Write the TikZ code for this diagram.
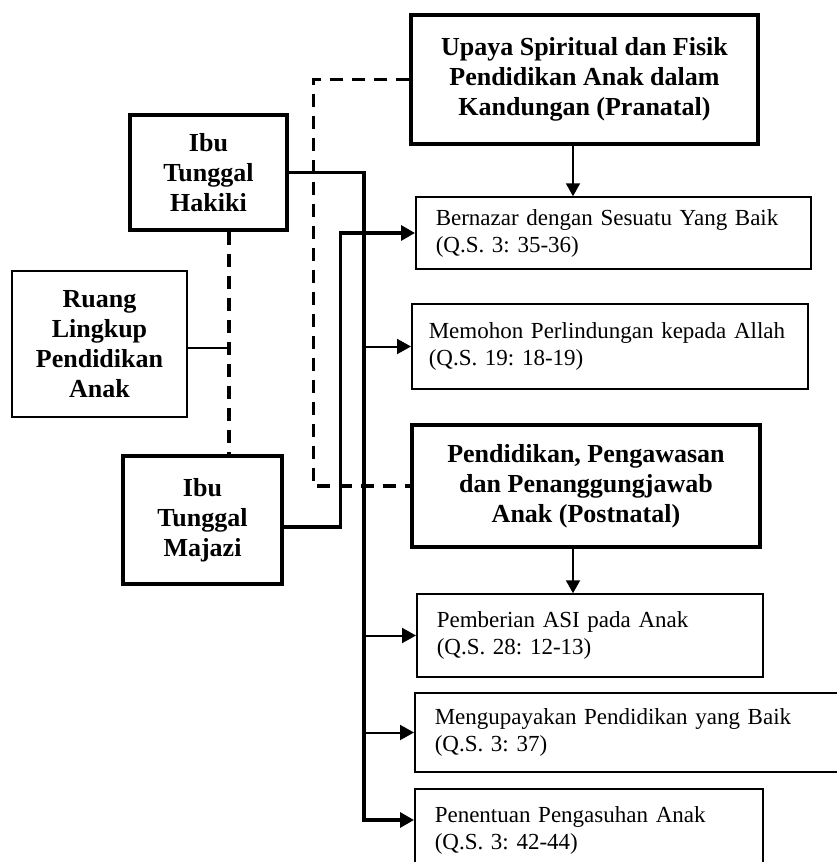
\documentclass[tikz,border=0pt]{standalone}
\usepackage{fontspec}
\setmainfont{Liberation Serif}
\usetikzlibrary{arrows.meta}
\frenchspacing

\begin{document}
\begin{tikzpicture}[x=1pt, y=-1pt,
  bigbox/.style={draw, line width=3.2pt, align=center, font=\fontsize{26}{30}\selectfont\bfseries},
  smallbox/.style={draw, line width=1.5pt, align=left, anchor=west, inner xsep=20pt, font=\fontsize{23}{27}\selectfont},
  link/.style={line width=3.2pt, -{Triangle[length=14pt,width=15pt]}},
  branch/.style={line width=2pt, -{Triangle[length=14pt,width=15pt]}},
  drop/.style={line width=2pt, -{Triangle[length=13pt,width=14pt]}},
  dashlink/.style={line width=3.2pt, dash pattern=on 13pt off 9pt}]
  \useasboundingbox (0,0) rectangle (837,862);
  \clip (0,0) rectangle (837,862);

  % Left column
  \node[bigbox, line width=1.5pt, minimum width=175pt, minimum height=146pt] (ruang) at (99.5,344) {Ruang\\Lingkup\\Pendidikan\\Anak};
  \node[bigbox, minimum width=157pt, minimum height=115pt] (hakiki) at (208.5,172.5) {Ibu\\Tunggal\\Hakiki};
  \node[bigbox, minimum width=159pt, minimum height=128pt] (majazi) at (202.5,520) {Ibu\\Tunggal\\Majazi};

  % Pranatal
  \node[bigbox, minimum width=347pt, minimum height=129pt] (pranatal) at (584.5,79.5) {Upaya Spiritual dan Fisik\\Pendidikan Anak dalam\\Kandungan (Pranatal)};
  \node[smallbox, text width=355pt, minimum height=72pt] (bernazar) at (415,233) {Bernazar dengan Sesuatu Yang Baik\\(Q.S. 3: 35-36)};
  \node[smallbox, inner xsep=17pt, text width=362pt, minimum height=85pt] (memohon) at (411,346.5) {Memohon Perlindungan kepada Allah\\(Q.S. 19: 18-19)};

  % Postnatal
  \node[bigbox, minimum width=348pt, minimum height=122pt] (postnatal) at (586,486) {Pendidikan, Pengawasan\\dan Penanggungjawab\\Anak (Postnatal)};
  \node[smallbox, text width=306pt, minimum height=83pt] (pemberian) at (416,635.5) {Pemberian ASI pada Anak\\(Q.S. 28: 12-13)};
  \node[smallbox, text width=396pt, minimum height=79pt] (mengupayakan) at (414,732.5) {Mengupayakan Pendidikan yang Baik\\(Q.S. 3: 37)};
  \node[smallbox, text width=308pt, minimum height=82pt] (penentuan) at (414,830) {Penentuan Pengasuhan Anak\\(Q.S. 3: 42-44)};

  \coordinate (knot) at (229,348);
  \coordinate (trunk) at (364,172.5);

  % dashed links
  \draw[dashlink] (hakiki.south -| knot) -- (majazi.north -| knot);
  \draw[dashlink] (pranatal.west) -- ++(-96,0) |- (postnatal.west);
  \draw[line width=2.2pt] (ruang.east |- knot) -- (knot);

  % solid links
  \draw[link] (hakiki.east) -- (trunk) |- ([yshift=10pt]penentuan.west);
  \draw[link] ([yshift=-7pt]majazi.east) -- ++(56.5,0) |- (bernazar.west);
  \draw[branch] (memohon.west -| trunk) -- (memohon.west);
  \draw[branch] (pemberian.west -| trunk) -- (pemberian.west);
  \draw[branch] (mengupayakan.west -| trunk) -- (mengupayakan.west);
  \draw[drop] ([xshift=-11.5pt]pranatal.south) -- ([xshift=-11.5pt]pranatal.south |- bernazar.north);
  \draw[drop] ([xshift=-13pt]postnatal.south) -- ([xshift=-13pt]postnatal.south |- pemberian.north);
\end{tikzpicture}
\end{document}
